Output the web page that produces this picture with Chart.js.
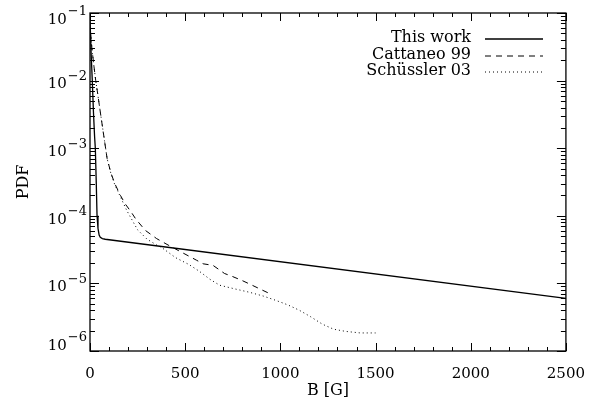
<!DOCTYPE html>
<html>
<head>
<meta charset="utf-8">
<script src="https://cdn.jsdelivr.net/npm/chart.js@4.4.0/dist/chart.umd.min.js"></script>
<style>
  html, body { margin: 0; padding: 0; background: #fff; }
</style>
</head>
<body>
<canvas id="pdfChart" width="591" height="400"></canvas>
<script>
// values (B in gauss, PDF on a log axis)
const thisWorkB   = [0, 6, 12, 18, 24, 28, 33, 37, 42, 48, 54, 65, 80, 2500];
const thisWorkPdf = [0.08, 0.025, 0.01, 3.5e-3, 1.5e-3, 1e-3, 3e-4, 1e-4, 6.5e-5, 5.2e-5, 4.8e-5, 4.6e-5, 4.5e-5, 6e-6];

const cattaneoB   = [3, 10, 20, 30, 40, 55, 70, 90, 110, 130, 160, 185, 215, 240, 290, 350, 410, 480, 560, 594, 646, 707, 750, 800, 855, 942];
const cattaneoPdf = [0.05, 0.03, 0.017, 0.01, 6.5e-3, 3.3e-3, 1.7e-3, 7e-4, 4.3e-4, 3e-4, 2e-4, 1.5e-4, 1.15e-4, 9e-5, 6.1e-5, 4.6e-5, 3.7e-5, 2.9e-5, 2.2e-5, 1.95e-5, 1.85e-5, 1.4e-5, 1.26e-5, 1.1e-5, 9.3e-6, 7.1e-6];

const schusslerB   = [3, 10, 20, 30, 40, 55, 70, 90, 110, 130, 160, 193, 250, 300, 350, 376, 450, 520, 576, 630, 681, 760, 837, 910, 977, 1040, 1100, 1160, 1220, 1280, 1343, 1420, 1500];
const schusslerPdf = [0.05, 0.03, 0.017, 0.01, 6.5e-3, 3.3e-3, 1.7e-3, 7e-4, 4.2e-4, 2.9e-4, 1.9e-4, 1.2e-4, 6.2e-5, 4.5e-5, 3.7e-5, 3.4e-5, 2.4e-5, 1.9e-5, 1.5e-5, 1.15e-5, 9.4e-6, 8.3e-6, 7.4e-6, 6.5e-6, 5.6e-6, 4.8e-6, 4e-6, 3.2e-6, 2.5e-6, 2.1e-6, 1.95e-6, 1.85e-6, 1.85e-6];

const seriesLabels = ['This work', 'Cattaneo 99', 'Sch\u00fcssler 03'];
const xTickLabels = [0, 500, 1000, 1500, 2000, 2500];
const yDecades = [-6, -5, -4, -3, -2, -1];

const FONT = '"DejaVu Serif", "Liberation Serif", serif';

function pts(xs, ys) {
  return xs.map((b, i) => ({ x: b, y: ys[i] }));
}

// box with inward ticks on all four sides, y labels as 10^n, legend at top right
const idlFrame = {
  id: 'idlFrame',
  afterDraw(chart) {
    const { ctx, chartArea: a, scales: { x, y } } = chart;
    ctx.save();
    ctx.strokeStyle = '#000';
    ctx.lineWidth = 1.3;
    ctx.strokeRect(a.left, a.top, a.right - a.left, a.bottom - a.top);

    ctx.lineWidth = 1;
    ctx.beginPath();
    x.ticks.forEach(t => {
      const px = Math.round(x.getPixelForValue(t.value)) + 0.5;
      const len = xTickLabels.includes(t.value) ? 8 : 4;
      ctx.moveTo(px, a.bottom); ctx.lineTo(px, a.bottom - len);
      ctx.moveTo(px, a.top); ctx.lineTo(px, a.top + len);
    });
    yDecades.forEach(e => {
      for (let m = 1; m <= 9; m++) {
        const v = m * Math.pow(10, e);
        if (v > y.max * 1.0001) break;
        const py = Math.round(y.getPixelForValue(v)) + 0.5;
        const len = m === 1 ? 9 : 5;
        ctx.moveTo(a.left, py); ctx.lineTo(a.left + len, py);
        ctx.moveTo(a.right, py); ctx.lineTo(a.right - len, py);
      }
    });
    ctx.stroke();

    // y tick labels with superscript exponent
    ctx.fillStyle = '#000';
    ctx.textBaseline = 'middle';
    ctx.textAlign = 'right';
    yDecades.forEach(e => {
      const py = y.getPixelForValue(Math.pow(10, e));
      let dy = 0;
      if (e === -1) dy = 3;
      if (e === -6) dy = -9;
      const expText = '\u2212' + Math.abs(e);
      ctx.font = '13px ' + FONT;
      const ew = ctx.measureText(expText).width;
      const expRight = a.left - 3;
      ctx.fillText(expText, expRight, py - 4 + dy);
      ctx.font = '15px ' + FONT;
      ctx.fillText('10', expRight - ew - 1, py + 4 + dy);
    });

    // legend: label, then line sample
    const rows = [38, 55, 71];
    chart.data.datasets.forEach((ds, i) => {
      const ry = rows[i];
      ctx.font = '16px ' + FONT;
      ctx.textAlign = 'right';
      ctx.fillText(ds.label, 471, ry);
      ctx.beginPath();
      ctx.setLineDash(ds.borderDash || []);
      ctx.lineWidth = ds.borderWidth;
      ctx.moveTo(485, ry + 1);
      ctx.lineTo(543, ry + 1);
      ctx.stroke();
    });
    ctx.restore();
  }
};

new Chart(document.getElementById('pdfChart'), {
  type: 'line',
  data: {
    datasets: [
      {
        label: seriesLabels[0],
        data: pts(thisWorkB, thisWorkPdf),
        borderColor: '#000',
        borderWidth: 1.3,
        pointRadius: 0
      },
      {
        label: seriesLabels[1],
        data: pts(cattaneoB, cattaneoPdf),
        borderColor: '#000',
        borderWidth: 1,
        borderDash: [6, 5],
        pointRadius: 0
      },
      {
        label: seriesLabels[2],
        data: pts(schusslerB, schusslerPdf),
        borderColor: '#000',
        borderWidth: 1,
        borderDash: [1, 3],
        pointRadius: 0
      }
    ]
  },
  options: {
    responsive: false,
    animation: false,
    layout: { padding: { left: 0, right: 20, top: 13, bottom: 0 } },
    plugins: {
      legend: { display: false },
      tooltip: { enabled: false }
    },
    scales: {
      x: {
        type: 'linear',
        min: 0,
        max: 2500,
        grid: { display: false },
        border: { display: false },
        ticks: {
          stepSize: 100,
          autoSkip: false,
          maxRotation: 0,
          padding: 6,
          color: '#000',
          font: { family: FONT, size: 15 },
          callback: v => (xTickLabels.includes(v) ? String(v) : '')
        },
        title: {
          display: true,
          text: 'B [G]',
          color: '#000',
          font: { family: FONT, size: 16 },
          padding: { top: 0, bottom: 0 }
        },
        afterFit(scale) { scale.height = 49; }
      },
      y: {
        type: 'logarithmic',
        min: 1e-6,
        max: 1e-1,
        grid: { display: false },
        border: { display: false },
        ticks: { display: false },
        title: {
          display: true,
          text: 'PDF',
          color: '#000',
          font: { family: FONT, size: 16 },
          padding: { top: 14, bottom: 0 }
        },
        afterFit(scale) { scale.width = 90; }
      }
    }
  },
  plugins: [idlFrame]
});
</script>
</body>
</html>
